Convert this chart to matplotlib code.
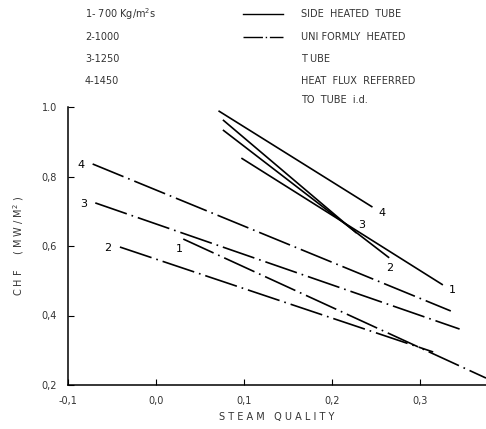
import numpy as np
import matplotlib.pyplot as plt
from matplotlib.lines import Line2D

# CHF vs steam quality, end points of each straight line
series = ['1', '2', '3', '4']
mass_flux = ['1- 700 Kg/m$^2$s', '2-1000', '3-1250', '4-1450']

# side heated tube (solid)
side_x0 = [0.097, 0.076, 0.076, 0.071]
side_y0 = [0.853, 0.934, 0.963, 0.989]
side_x1 = [0.326, 0.265, 0.228, 0.246]
side_y1 = [0.488, 0.566, 0.637, 0.712]

# uniformly heated tube (dash-dot)
unif_x0 = [0.031, -0.041, -0.069, -0.072]
unif_y0 = [0.620, 0.597, 0.724, 0.836]
unif_x1 = [0.375, 0.315, 0.345, 0.335]
unif_y1 = [0.220, 0.295, 0.361, 0.413]

xticks = [-0.1, 0.0, 0.1, 0.2, 0.3]
xticklabels = ['-0,1', '0,0', '0,1', '0,2', '0,3']
yticks = [0.2, 0.4, 0.6, 0.8, 1.0]
yticklabels = ['0,2', '0,4', '0,6', '0,8', '1.0']

txt = '#333333'
dashdot = (20, 3, 1, 3)

fig = plt.figure(figsize=(4.86, 4.29), dpi=100)
ax = fig.add_axes([68/486, 1 - 385/429, 1 - 68/486, (385 - 107)/429])

for i in range(4):
    ax.plot([side_x0[i], side_x1[i]], [side_y0[i], side_y1[i]], color='black', lw=1.2,
            solid_capstyle='butt')
    ax.plot([unif_x0[i], unif_x1[i]], [unif_y0[i], unif_y1[i]], color='black', lw=1.2,
            dashes=dashdot)

# curve numbers, offset in points from the line ends
side_off = [(4, -4), (-2, -7), (1, 6), (4, -4)]
for i in range(4):
    ax.annotate(series[i], (side_x1[i], side_y1[i]), xytext=side_off[i],
                textcoords='offset points', fontsize=8, ha='left', va='center')
ax.annotate(series[0], (unif_x0[0], unif_y0[0]), xytext=(-3, -7),
            textcoords='offset points', fontsize=8, ha='center', va='center')
for i in range(1, 4):
    ax.annotate(series[i], (unif_x0[i], unif_y0[i]), xytext=(-6, -1),
                textcoords='offset points', fontsize=8, ha='right', va='center')

ax.set_xlim(-0.1, 0.375)
ax.set_ylim(0.2, 1.0)
for s in ['top', 'right']:
    ax.spines[s].set_visible(False)
for s in ['left', 'bottom']:
    ax.spines[s].set_linewidth(1.1)
ax.set_xticks(xticks)
ax.set_xticklabels(xticklabels)
ax.set_yticks(yticks)
ax.set_yticklabels(yticklabels)
ax.tick_params(direction='in', length=4, width=0.8, labelsize=7, labelcolor=txt, pad=8)
ax.set_xlabel('S T E A M   Q U A L I T Y', fontsize=7, color=txt, labelpad=4)
ax.set_ylabel('C H F     ( M W / M$^2$ )', fontsize=7, color=txt, labelpad=11)

# mass flux key
for i, lab in enumerate(mass_flux):
    fig.text(85/486, 1 - (14 + 22.5*i)/429, lab, fontsize=7, color=txt, va='center')

# line style key
fig.add_artist(Line2D([243/486, 283/486], [1 - 14/429, 1 - 14/429], color='black', lw=1.0))
fig.add_artist(Line2D([243/486, 283/486], [1 - 37/429, 1 - 37/429], color='black', lw=1.0,
                      dashes=(14, 2, 1, 2)))
notes = ['SIDE  HEATED  TUBE', 'UNI FORMLY  HEATED', 'T UBE', 'HEAT  FLUX  REFERRED',
         'TO  TUBE  i.d.']
note_y = [14, 37, 59, 81, 100]
for t, y in zip(notes, note_y):
    fig.text(301/486, 1 - y/429, t, fontsize=7, color=txt, va='center')

fig.savefig('out.png', dpi=100)
